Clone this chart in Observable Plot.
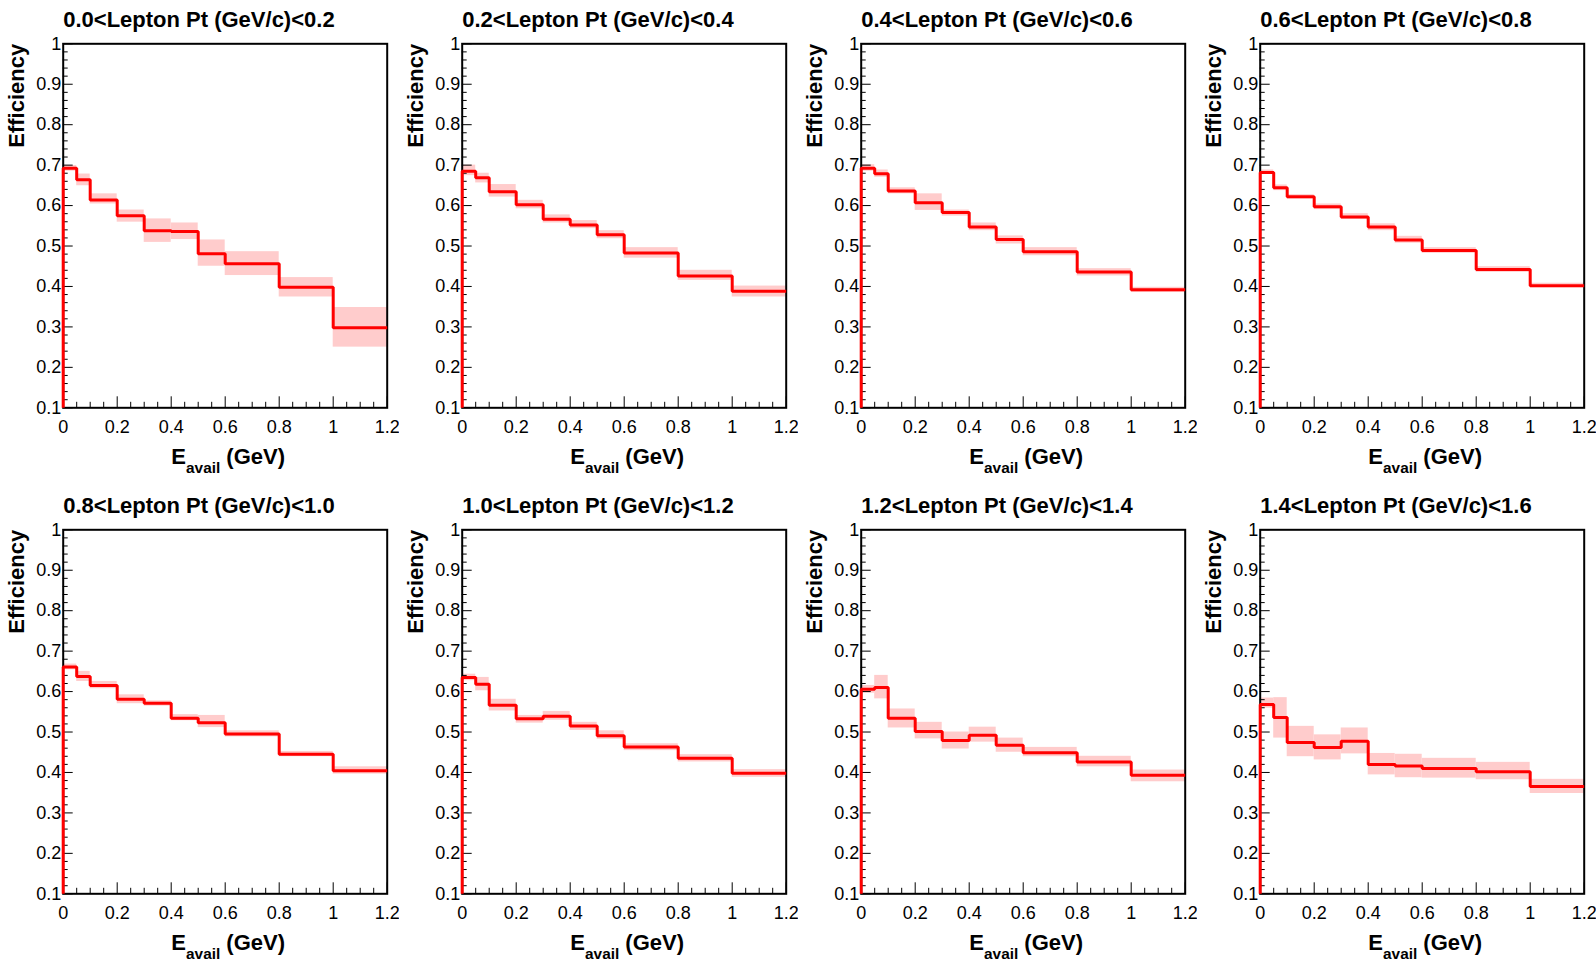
<!DOCTYPE html>
<html>
<head>
<meta charset="utf-8">
<script src="https://cdn.jsdelivr.net/npm/d3@7"></script>
<script src="https://cdn.jsdelivr.net/npm/@observablehq/plot@0.6"></script>
<style>
  html, body { margin: 0; padding: 0; background: #fff; }
  #grid { display: flex; flex-wrap: wrap; width: 1596px; }
  #grid svg { display: block; flex: 0 0 auto; }
</style>
</head>
<body>
<div id="grid"></div>
<script>
// Bin edges of E_avail (GeV)
const edges = [0, 0.05, 0.1, 0.2, 0.3, 0.4, 0.5, 0.6, 0.8, 1.0, 1.2];

// Tick values
const xTicks = [0, 0.2, 0.4, 0.6, 0.8, 1.0, 1.2];
const xTickLabels = ["0", "0.2", "0.4", "0.6", "0.8", "1", "1.2"];
const yTicks = [0.1, 0.2, 0.3, 0.4, 0.5, 0.6, 0.7, 0.8, 0.9, 1.0];
const yTickLabels = ["0.1", "0.2", "0.3", "0.4", "0.5", "0.6", "0.7", "0.8", "0.9", "1"];

// Panel titles
const titles = [
  "0.0<Lepton Pt (GeV/c)<0.2", "0.2<Lepton Pt (GeV/c)<0.4",
  "0.4<Lepton Pt (GeV/c)<0.6", "0.6<Lepton Pt (GeV/c)<0.8",
  "0.8<Lepton Pt (GeV/c)<1.0", "1.0<Lepton Pt (GeV/c)<1.2",
  "1.2<Lepton Pt (GeV/c)<1.4", "1.4<Lepton Pt (GeV/c)<1.6"
];

// Efficiency per bin, and error band low/high, per lepton Pt slice
const eff_00_02 = [0.692, 0.664, 0.614, 0.575, 0.538, 0.536, 0.481, 0.456, 0.398, 0.298];
const lo_00_02  = [0.685, 0.649, 0.604, 0.559, 0.509, 0.516, 0.450, 0.427, 0.374, 0.250];
const hi_00_02  = [0.699, 0.678, 0.629, 0.589, 0.567, 0.557, 0.515, 0.486, 0.422, 0.348];

const eff_02_04 = [0.685, 0.669, 0.634, 0.602, 0.566, 0.552, 0.528, 0.483, 0.426, 0.388];
const lo_02_04  = [0.674, 0.656, 0.621, 0.592, 0.557, 0.543, 0.518, 0.470, 0.415, 0.374];
const hi_02_04  = [0.700, 0.680, 0.652, 0.613, 0.577, 0.563, 0.538, 0.496, 0.440, 0.401];

const eff_04_06 = [0.692, 0.679, 0.636, 0.607, 0.583, 0.547, 0.516, 0.486, 0.436, 0.392];
const lo_04_06  = [0.685, 0.670, 0.629, 0.588, 0.574, 0.538, 0.505, 0.476, 0.426, 0.385];
const hi_04_06  = [0.701, 0.688, 0.644, 0.629, 0.589, 0.557, 0.525, 0.496, 0.444, 0.398];

const eff_06_08 = [0.682, 0.644, 0.622, 0.597, 0.572, 0.547, 0.515, 0.489, 0.442, 0.402];
const lo_06_08  = [0.677, 0.637, 0.616, 0.590, 0.566, 0.538, 0.507, 0.482, 0.435, 0.397];
const hi_06_08  = [0.688, 0.651, 0.627, 0.604, 0.580, 0.555, 0.524, 0.496, 0.449, 0.408];

const eff_08_10 = [0.661, 0.637, 0.615, 0.581, 0.571, 0.534, 0.523, 0.495, 0.445, 0.404];
const lo_08_10  = [0.654, 0.625, 0.607, 0.570, 0.564, 0.528, 0.511, 0.488, 0.439, 0.396];
const hi_08_10  = [0.668, 0.650, 0.625, 0.592, 0.577, 0.543, 0.541, 0.503, 0.452, 0.414];

const eff_10_12 = [0.635, 0.618, 0.566, 0.533, 0.539, 0.515, 0.491, 0.463, 0.435, 0.398];
const lo_10_12  = [0.627, 0.602, 0.552, 0.522, 0.529, 0.504, 0.482, 0.454, 0.426, 0.388];
const hi_10_12  = [0.643, 0.635, 0.581, 0.541, 0.551, 0.524, 0.503, 0.471, 0.444, 0.407];

const eff_12_14 = [0.606, 0.610, 0.534, 0.501, 0.479, 0.492, 0.467, 0.449, 0.426, 0.393];
const lo_12_14  = [0.596, 0.582, 0.510, 0.483, 0.458, 0.475, 0.450, 0.439, 0.414, 0.377];
const hi_12_14  = [0.615, 0.640, 0.557, 0.524, 0.500, 0.512, 0.485, 0.462, 0.440, 0.406];

const eff_14_16 = [0.568, 0.536, 0.474, 0.462, 0.477, 0.420, 0.416, 0.410, 0.402, 0.365];
const lo_14_16  = [0.559, 0.485, 0.439, 0.431, 0.446, 0.394, 0.387, 0.386, 0.382, 0.348];
const hi_14_16  = [0.584, 0.585, 0.514, 0.493, 0.510, 0.447, 0.445, 0.435, 0.425, 0.383];

const panels = [
  [eff_00_02, lo_00_02, hi_00_02], [eff_02_04, lo_02_04, hi_02_04],
  [eff_04_06, lo_04_06, hi_04_06], [eff_06_08, lo_06_08, hi_06_08],
  [eff_08_10, lo_08_10, hi_08_10], [eff_10_12, lo_10_12, hi_10_12],
  [eff_12_14, lo_12_14, hi_12_14], [eff_14_16, lo_14_16, hi_14_16]
];

const yMin = 0.1, yMax = 1.0, xMin = 0, xMax = 1.2;
const xMinor = d3.range(0, 1.2001, 0.05).filter(v => Math.abs(v / 0.2 - Math.round(v / 0.2)) > 1e-6);
const yMinor = d3.range(0.1, 1.0001, 0.02).filter(v => Math.abs(v / 0.1 - Math.round(v / 0.1)) > 1e-6);

const FONT = "'Liberation Sans', Arial, Helvetica, sans-serif";
const XTITLE = "E_avail (GeV)";
const LABEL_SIZE = 18;

function fmtX(d) { const i = xTicks.findIndex(t => Math.abs(t - d) < 1e-9); return i >= 0 ? xTickLabels[i] : ""; }
function fmtY(d) { const i = yTicks.findIndex(t => Math.abs(t - d) < 1e-9); return i >= 0 ? yTickLabels[i] : ""; }

function makePanel(title, eff, lo, hi) {
  const bins = eff.map((v, i) => ({x1: edges[i], x2: edges[i + 1], lo: lo[i], hi: hi[i]}));
  const pts = [{x: edges[0], y: yMin}]
    .concat(eff.map((v, i) => ({x: edges[i], y: v})))
    .concat([{x: edges[edges.length - 1], y: eff[eff.length - 1]}]);
  const svg = Plot.plot({
    width: 399,
    height: 486,
    marginLeft: 62.7,
    marginRight: 12.3,
    marginTop: 43.3,
    marginBottom: 78.7,
    x: {domain: [xMin, xMax], label: null},
    y: {domain: [yMin, yMax], label: null},
    style: {fontFamily: FONT, fontSize: LABEL_SIZE + "px", color: "black", background: "white", overflow: "visible"},
    marks: [
      Plot.rect(bins, {x1: "x1", x2: "x2", y1: "lo", y2: "hi", fill: "#ffcccc"}),
      Plot.axisX({ticks: xTicks, tickSize: -11, fill: "none", label: null}),
      Plot.axisX({ticks: xMinor, tickSize: -5.5, fill: "none", label: null}),
      Plot.axisY({ticks: yTicks, tickSize: -10, fill: "none", label: null}),
      Plot.axisY({ticks: yMinor, tickSize: -5, fill: "none", label: null}),
      Plot.axisX({ticks: xTicks, tickSize: 0, tickPadding: 12, tickFormat: fmtX, label: null, fontSize: LABEL_SIZE}),
      Plot.axisY({ticks: yTicks, tickSize: 0, tickPadding: 2, tickFormat: fmtY, label: null, fontSize: LABEL_SIZE}),
      Plot.frame({stroke: "black", strokeWidth: 2}),
      Plot.line(pts, {x: "x", y: "y", curve: "step-after", stroke: "#ff0000", strokeWidth: 3, strokeLinejoin: "miter", strokeLinecap: "butt"}),
      Plot.text([title], {text: d => d, frameAnchor: "top-left", textAnchor: "start", lineAnchor: "bottom", dy: -17.3, fontSize: 22, fontWeight: "bold"}),
      Plot.text(["Efficiency"], {text: d => d, frameAnchor: "top-left", textAnchor: "end", lineAnchor: "bottom", rotate: -90, dx: -39.4, fontSize: 22, fontWeight: "bold"}),
      Plot.text([XTITLE], {text: d => d, frameAnchor: "bottom", textAnchor: "middle", lineAnchor: "bottom", dx: 3, dy: 55.7, fontSize: 22, fontWeight: "bold"})
    ]
  });
  // Render the subscript of the x-axis title
  d3.select(svg).selectAll("text").filter(function () { return this.textContent === XTITLE; })
    .each(function () {
      const t = d3.select(this);
      t.text(null);
      t.append("tspan").text("E");
      t.append("tspan").attr("dy", 9.7).attr("font-size", "15.4px").text("avail");
      t.append("tspan").attr("dy", -9.7).attr("font-size", "22px").text(" (GeV)");
    });
  return svg;
}

const grid = document.getElementById("grid");
panels.forEach(([e, l, h], i) => grid.appendChild(makePanel(titles[i], e, l, h)));
</script>
</body>
</html>
